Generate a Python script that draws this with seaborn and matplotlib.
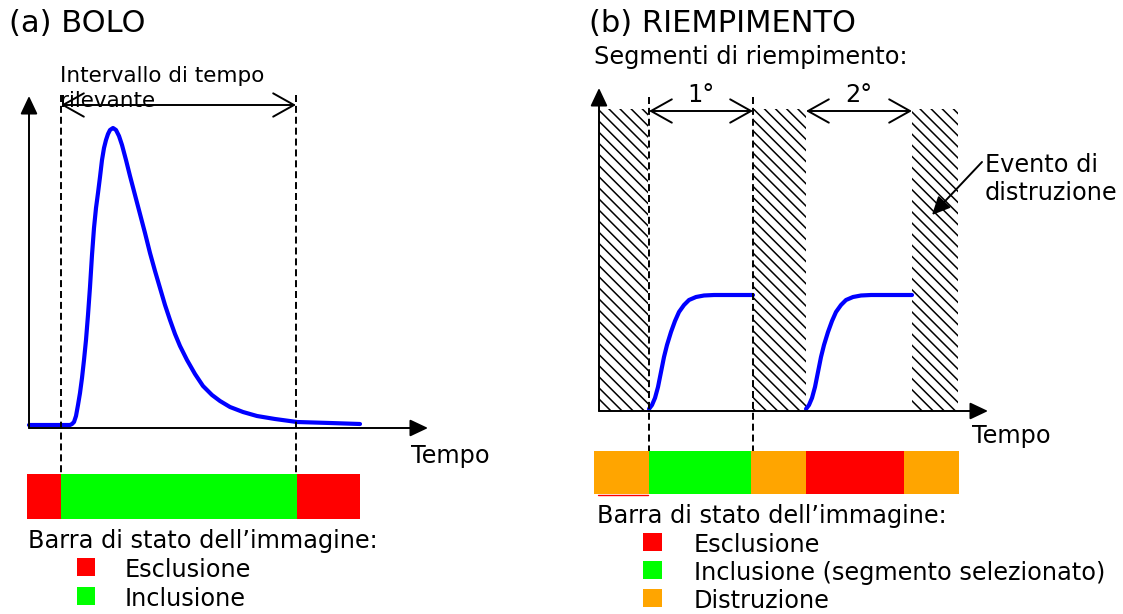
import numpy as np
import pandas as pd
import matplotlib.pyplot as plt
import seaborn as sns

# coordinates are in picture pixels (x to the right, y downwards)

# (a) bolus curve
bolo_x = [29, 50, 70, 72, 74, 76, 78, 80, 82, 84, 86, 88, 90, 92, 94, 96, 98, 100,
          102, 104, 106, 108, 110, 113, 116, 119, 122, 126, 130, 135, 140, 145, 150,
          155, 160, 165, 170, 175, 180, 187, 195, 203, 212, 220, 230, 243, 257, 275,
          297, 330, 360]
bolo_y = [425, 425, 425, 424, 422, 416, 405, 393, 378, 360, 340, 315, 287, 255, 228,
          208, 193, 177, 160, 148, 140, 134, 130, 128, 130, 136, 145, 160, 176, 195,
          214, 233, 253, 271, 288, 305, 320, 334, 346, 360, 374, 386, 395, 401, 407,
          412, 416, 419, 422, 423, 424]
bolo_window = [61, 296]          # intervallo di tempo rilevante

# (b) refill curve, offsets from the start of each segment
fill_dt = [0, 3, 6, 9, 12, 15, 18, 22, 26, 30, 35, 40, 47, 55, 65]
fill_y = [409, 405, 398, 387, 372, 357, 345, 332, 321, 312, 305, 300, 297, 295.5,
          295, 295]
seg_start = [649, 806]
seg_end = [753, 912]
seg_labels = ['1°', '2°']

# destruction events (hatched)
destr_left = [599, 753, 912]
destr_right = [648, 806, 958]
destr_top, destr_bottom = 109, 411

# status bars
bar_a_edges = [27, 61, 297, 360]
bar_a_states = ['Esclusione', 'Inclusione', 'Esclusione']
bar_b_edges = [594, 649, 751, 806, 904, 959]
bar_b_states = ['Distruzione', 'Inclusione', 'Distruzione', 'Esclusione', 'Distruzione']

palette = {'Esclusione': '#ff0000', 'Inclusione': '#00ff00', 'Distruzione': '#ffa500'}
legend_a = ['Esclusione', 'Inclusione']
legend_b = ['Esclusione', 'Inclusione (segmento selezionato)', 'Distruzione']
legend_b_keys = ['Esclusione', 'Inclusione', 'Distruzione']

sns.set_theme(style='white')
plt.rcParams['font.family'] = ['DejaVu Sans']
plt.rcParams['text.color'] = 'black'
plt.rcParams['hatch.linewidth'] = 1.1

fig = plt.figure(figsize=(11.23, 6.14), dpi=100)
ax = fig.add_axes([0, 0, 1, 1])
ax.set_xlim(0, 1123)
ax.set_ylim(614, 0)
ax.axis('off')

big = 17.3
title = 22
head = dict(arrowstyle='-|>,head_length=0.55,head_width=0.26', mutation_scale=20,
            lw=1.4, color='black', shrinkA=0, shrinkB=0)
both = dict(arrowstyle='<->,head_length=0.75,head_width=0.42', mutation_scale=20,
            lw=1.4, color='black', shrinkA=0, shrinkB=0)
dash = dict(color='black', lw=1.4, linestyle=(0, (3.6, 2.0)), zorder=6)


def arrow(p0, p1, style):
    ax.annotate('', xy=p1, xytext=p0, xycoords='data', arrowprops=style, zorder=7)


# ---------------- (a) BOLO ----------------
ax.text(9, 32, '(a) BOLO', fontsize=title, va='baseline', ha='left')
arrow((29, 428), (29, 96), head)
arrow((29, 428), (428, 428), head)

df_a = pd.DataFrame({'t': bolo_x, 's': bolo_y})
sns.lineplot(data=df_a, x='t', y='s', sort=False, estimator=None, color='#0000ff',
             lw=3, ax=ax, zorder=5)

for xv in bolo_window:
    ax.plot([xv, xv], [95, 474], **dash)
arrow((bolo_window[0], 105), (bolo_window[1], 105), both)
ax.text(60, 82, 'Intervallo di tempo', fontsize=15.5, va='baseline', ha='left')
ax.text(60, 107, 'rilevante', fontsize=15.5, va='baseline', ha='left')
ax.text(411, 463, 'Tempo', fontsize=big, va='baseline', ha='left')

left_a = bar_a_edges[:-1]
width_a = np.diff(bar_a_edges)
ax.barh(496.5, width_a, left=left_a, height=45, align='center',
        color=[palette[s] for s in bar_a_states], linewidth=0, zorder=2)

ax.text(28, 548, 'Barra di stato dell’immagine:', fontsize=big, va='baseline', ha='left')
for i, lab in enumerate(legend_a):
    yb = 577 + 29 * i
    ax.bar(77, -18, bottom=yb - 1, width=18, align='edge',
           color=palette[lab], linewidth=0)
    ax.text(125, yb, lab, fontsize=big, va='baseline', ha='left')

# ---------------- (b) RIEMPIMENTO ----------------
ax.text(589, 32, '(b) RIEMPIMENTO', fontsize=title, va='baseline', ha='left')
ax.text(594, 64, 'Segmenti di riempimento:', fontsize=big, va='baseline', ha='left')

arrow((599, 411), (599, 88), head)
arrow((599, 411), (988, 411), head)

for l, r in zip(destr_left, destr_right):
    ax.bar(l, destr_top - destr_bottom, bottom=destr_bottom, width=r - l, align='edge',
           color='white', edgecolor='black', linewidth=0, hatch='\\' * 3, zorder=4)

rows = []
for k, (s0, s1) in enumerate(zip(seg_start, seg_end)):
    ts = [s0 + d for d in fill_dt] + [s1]
    for t, v in zip(ts, fill_y):
        rows.append({'t': t, 's': v, 'seg': k})
df_b = pd.DataFrame(rows)
sns.lineplot(data=df_b, x='t', y='s', units='seg', sort=False, estimator=None,
             color='#0000ff', lw=3, ax=ax, zorder=5)

for xv in [seg_start[0], seg_end[0]]:
    ax.plot([xv, xv], [97, 451], **dash)
for s0, s1, lab in zip(seg_start, seg_end, seg_labels):
    arrow((s0, 111), (s1, 111), both)
    ax.text((s0 + s1) / 2, 102, lab, fontsize=big, va='baseline', ha='center')

arrow((982, 162), (932, 215), head)
ax.text(985, 172, 'Evento di', fontsize=big, va='baseline', ha='left')
ax.text(985, 200, 'distruzione', fontsize=big, va='baseline', ha='left')
ax.text(972, 443, 'Tempo', fontsize=big, va='baseline', ha='left')

left_b = bar_b_edges[:-1]
width_b = np.diff(bar_b_edges)
ax.barh(472.5, width_b, left=left_b, height=43, align='center',
        color=[palette[s] for s in bar_b_states], linewidth=0, zorder=2)
ax.plot([598, 648], [495, 495], color='#ff0000', lw=1, zorder=2)

ax.text(597, 523, 'Barra di stato dell’immagine:', fontsize=big, va='baseline', ha='left')
for i, (key, lab) in enumerate(zip(legend_b_keys, legend_b)):
    yb = 552 + 28 * i
    ax.bar(643, -18, bottom=yb - 1, width=19, align='edge',
           color=palette[key], linewidth=0)
    ax.text(694, yb, lab, fontsize=big, va='baseline', ha='left')

if ax.get_legend() is not None:
    ax.get_legend().remove()

fig.savefig('out.png', dpi=100)
